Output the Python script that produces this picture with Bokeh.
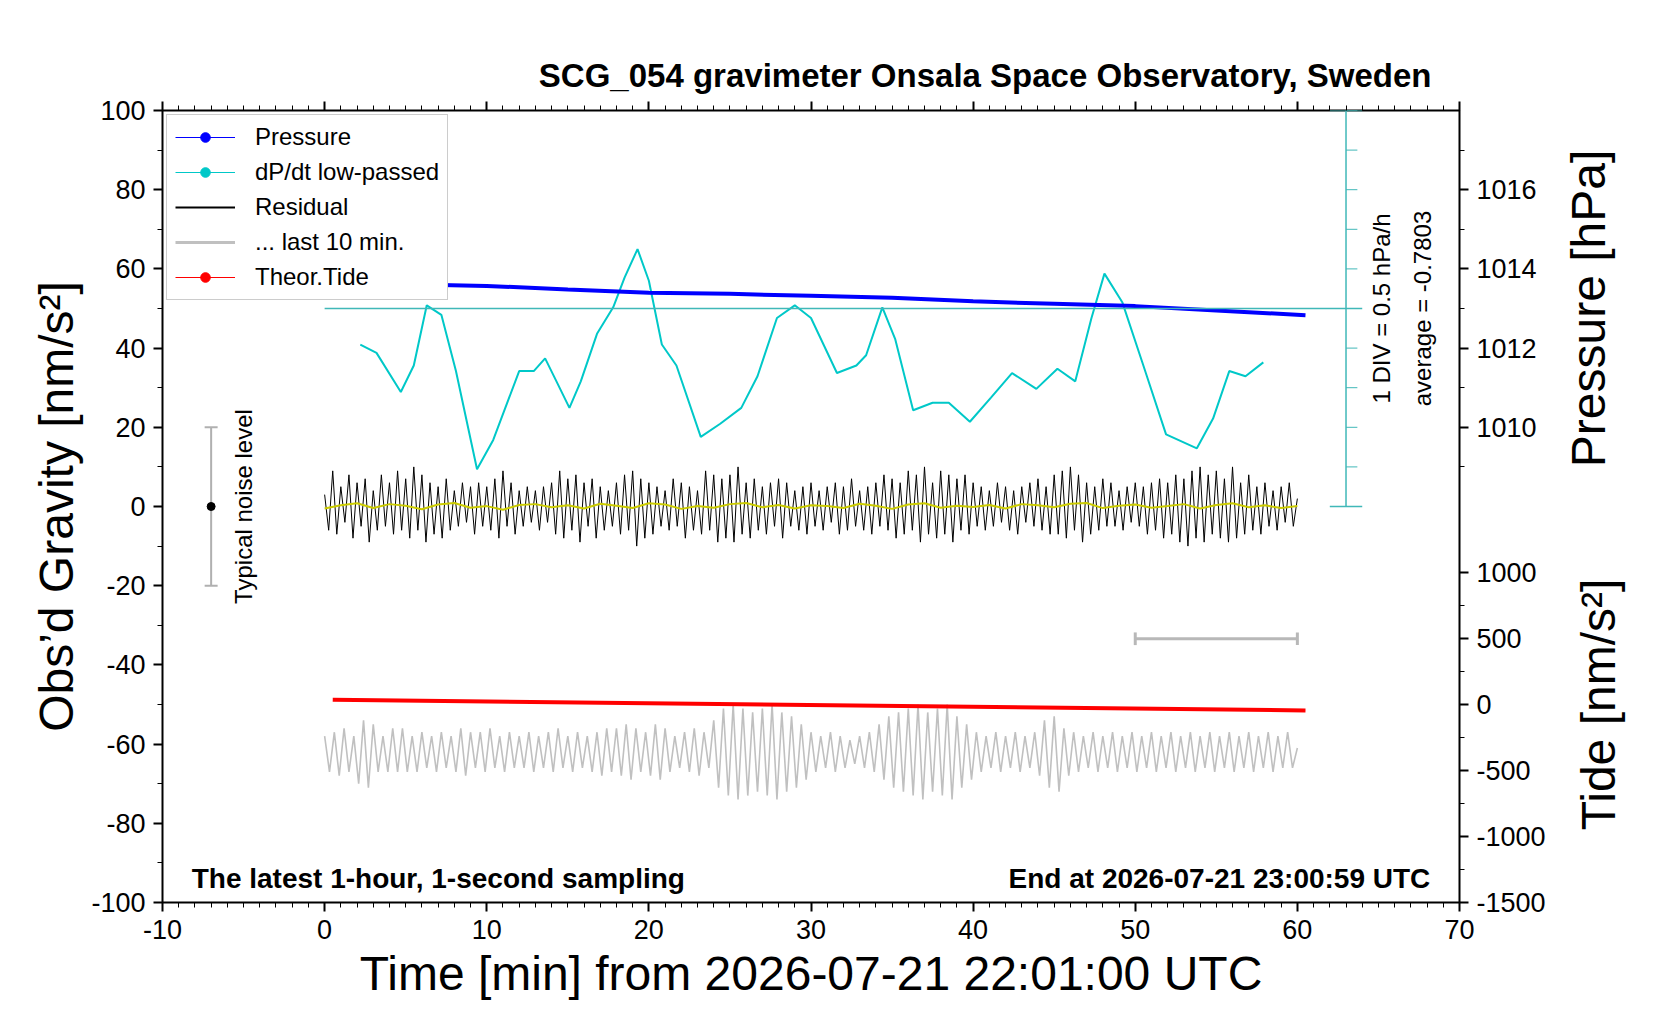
import numpy as np
from bokeh.plotting import figure
from bokeh.layouts import row
from bokeh.models import (Range1d, LinearAxis, FixedTicker, Label, Legend, LegendItem)
from bokeh.embed import file_html
from bokeh.resources import INLINE

# cyan dP/dt low-passed (minutes, plot units)
dpdt_x = [2.2, 3.2, 4.7, 5.5, 6.3, 7.2, 8.1, 9.4, 10.4, 12.0, 12.9, 13.6, 14.3, 15.1, 15.8,
          16.8, 17.8, 18.5, 19.3, 20.0, 20.8, 21.7, 23.2, 24.4, 25.7, 26.7, 27.9, 29.0, 30.0,
          31.6, 32.8, 33.4, 34.4, 35.2, 36.3, 37.5, 38.5, 39.8, 41.1, 42.4, 43.9, 45.2, 46.3,
          47.3, 48.1, 49.2, 50.5, 51.9, 53.8, 54.8, 55.8, 56.8, 57.9]
dpdt_y = [40.9, 38.8, 28.9, 35.6, 50.8, 48.4, 34.2, 9.4, 16.8, 34.2, 34.2, 37.4, 31.6, 24.9, 31.6,
          43.6, 50.3, 57.8, 65.0, 57.0, 40.9, 35.6, 17.6, 20.9, 24.9, 32.9, 47.6, 50.8, 47.6,
          33.7, 35.6, 38.2, 50.3, 42.2, 24.3, 26.2, 26.2, 21.4, 27.5, 33.7, 29.7, 34.8, 31.6,
          47.6, 58.8, 51.6, 35.6, 18.2, 14.7, 22.2, 34.2, 32.9, 36.4]

# pressure [hPa]
pres_x = [0.3, 5, 10, 15, 20, 25, 30, 35, 40, 45, 50, 55, 60.5]
pres_hpa = [1013.63, 1013.61, 1013.57, 1013.48, 1013.40, 1013.37, 1013.32, 1013.27,
            1013.18, 1013.12, 1013.06, 1012.95, 1012.83]

# theoretical tide [nm/s^2]
tide_x = [0.5, 60.5]
tide_val = [36, -45]

# residual, 15 s steps
residual = [3,-6,9,-7,5,-4,8,-8,6,-5,7,-9,4,-6,8,-5,6,-7,9,-6,
            7,-8,10,-6,8,-9,6,-7,5,-8,7,-6,4,-5,6,-4,5,-7,6,-5,
            5,-6,7,-8,9,-5,6,-7,4,-5,5,-4,4,-6,5,-4,6,-7,9,-8,
            7,-6,8,-9,6,-5,7,-8,5,-6,4,-5,6,-7,8,-6,9,-10,7,-8,
            6,-7,5,-5,4,-6,7,-5,6,-8,5,-6,4,-7,9,-6,8,-9,7,-8,
            8,-9,10,-7,6,-8,7,-6,5,-7,6,-5,7,-8,6,-5,4,-6,5,-7,
            6,-5,4,-6,5,-4,6,-7,5,-6,7,-5,4,-6,5,-7,6,-5,8,-6,
            7,-8,6,-7,9,-6,8,-9,10,-7,6,-8,9,-7,8,-9,7,-6,8,-7,
            6,-5,5,-6,4,-5,6,-4,5,-6,4,-7,5,-4,6,-5,7,-6,5,-7,
            8,-7,9,-8,10,-6,8,-9,6,-7,5,-6,7,-5,6,-5,4,-6,5,-4,
            6,-5,5,-7,6,-6,7,-8,6,-7,8,-9,7,-10,9,-8,10,-9,8,-7,
            9,-8,7,-9,10,-8,6,-7,8,-6,5,-7,6,-5,4,-6,5,-4,6,-5,
            2]

# smoothed residual, 1 min steps
smooth = [-0.5,0.3,0.8,-0.4,0.6,0.2,-0.7,0.5,0.9,-0.3,0.1,-0.8,0.4,0.6,-0.2,0.3,-0.5,0.7,0.2,-0.4,
          0.8,0.5,-0.6,0.1,-0.3,0.6,0.9,-0.2,0.4,-0.5,0.3,0.1,-0.4,0.7,0.2,-0.6,0.5,0.8,-0.3,0.2,
          -0.1,0.4,-0.5,0.6,0.3,-0.2,0.7,0.9,-0.4,0.2,0.5,-0.3,0.1,0.6,-0.5,0.4,0.8,-0.2,0.3,-0.4,0.1]

# last 10 min trace, 18 s steps
gray = [-58,-67,-57,-68,-56,-67,-58,-70,-54,-71,-55,-67,-58,-67,-56,-67,-56,-67,-58,-67,
        -57,-66,-58,-67,-57,-66,-58,-67,-56,-68,-57,-66,-57,-67,-56,-66,-58,-67,-57,-66,
        -58,-66,-57,-67,-58,-66,-57,-67,-56,-66,-58,-67,-57,-66,-58,-67,-57,-68,-56,-67,
        -56,-68,-55,-69,-56,-67,-57,-68,-55,-69,-56,-67,-58,-66,-57,-67,-56,-68,-57,-66,
        -54,-71,-51,-73,-50,-74,-51,-73,-52,-72,-51,-73,-50,-74,-52,-72,-53,-71,-55,-69,
        -57,-67,-58,-66,-57,-67,-58,-66,-59,-65,-58,-66,-57,-67,-55,-69,-53,-71,-52,-72,
        -51,-73,-50,-74,-52,-72,-51,-73,-50,-74,-53,-71,-55,-69,-57,-67,-58,-66,-57,-67,
        -58,-66,-57,-67,-58,-66,-57,-68,-54,-71,-53,-72,-56,-68,-57,-67,-58,-66,-57,-67,
        -58,-66,-57,-67,-58,-66,-57,-67,-58,-66,-57,-67,-58,-66,-57,-67,-58,-66,-57,-67,
        -58,-66,-57,-67,-58,-66,-57,-67,-58,-66,-57,-67,-58,-66,-57,-67,-58,-66,-57,-66,
        -61]

x_ticks = [-10, 0, 10, 20, 30, 40, 50, 60, 70]
left_ticks = [-100, -80, -60, -40, -20, 0, 20, 40, 60, 80, 100]
pres_ticks = [1010, 1012, 1014, 1016]
tide_ticks = [-1500, -1000, -500, 0, 500, 1000]

FONT = "Liberation Sans"
TOP, BOTTOM, FH = 110, 106, 792

p = figure(frame_width=1297, frame_height=FH, x_range=Range1d(-10, 70), y_range=Range1d(-100, 100),
           output_backend="svg", toolbar_location=None,
           min_border_left=162, min_border_right=0, min_border_top=TOP, min_border_bottom=BOTTOM)
p.xgrid.grid_line_color = None
p.ygrid.grid_line_color = None
p.outline_line_color = "black"
p.outline_line_width = 2
p.background_fill_color = "white"

p.title.text = "\nSCG_054 gravimeter Onsala Space Observatory, Sweden"
p.title.text_font = FONT
p.title.text_font_size = "33px"
p.title.text_font_style = "bold"
p.title.text_color = "black"
p.title.align = "right"
p.title.offset = 28
p.title.standoff = 16

# tide range also carries the pressure scale: p -> (p - 1008) * 300 + 1500
p.extra_y_ranges = {"pres": Range1d(998, 1018), "tide": Range1d(-1500, 4500)}

def hy(v):
    return str(v).replace("\u2212", "-")

p.xaxis.ticker = FixedTicker(ticks=x_ticks, minor_ticks=list(range(-10, 71)))
p.xaxis.major_label_overrides = {v: hy(v) for v in x_ticks}
p.yaxis.ticker = FixedTicker(ticks=left_ticks, minor_ticks=list(range(-100, 101, 10)))
p.yaxis.major_label_overrides = {v: hy(v) for v in left_ticks}
p.xaxis.axis_label = "Time [min] from 2026-07-21 22:01:00 UTC"
p.yaxis.axis_label = "Obs\u2019d Gravity [nm/s\u00b2]"

top = LinearAxis(ticker=FixedTicker(ticks=x_ticks, minor_ticks=list(range(-10, 71))),
                 major_label_text_alpha=0)
p.add_layout(top, "above")

pres_pos = [(v - 1008) * 300 + 1500 for v in pres_ticks]
pres_minor = [(v - 1008) * 300 + 1500 for v in range(1009, 1018)]
ticks_ax = LinearAxis(y_range_name="tide",
                      ticker=FixedTicker(ticks=tide_ticks + pres_pos,
                                         minor_ticks=list(range(-1500, 1001, 250)) + pres_minor))
ticks_ax.major_label_overrides = {**{t: str(t) for t in tide_ticks},
                                  **{pos: str(v) for pos, v in zip(pres_pos, pres_ticks)}}
p.add_layout(ticks_ax, "right")

for ax in p.axis:
    ax.axis_line_color = None
    ax.major_tick_line_color = "black"
    ax.minor_tick_line_color = "black"
    ax.major_tick_line_width = 2
    ax.major_tick_out = 9
    ax.major_tick_in = 0
    ax.minor_tick_out = 5
    ax.minor_tick_in = 0
    ax.major_label_text_font = FONT
    ax.major_label_text_font_size = "27px"
    ax.major_label_text_color = "black"
    ax.major_label_standoff = 8
    ax.axis_label_text_font = FONT
    ax.axis_label_text_font_size = "48px"
    ax.axis_label_text_font_style = "normal"
    ax.axis_label_text_color = "black"
top.major_label_text_font_size = "1px"
top.major_label_standoff = 4
p.xaxis[0].axis_label_text_font_size = "50px"
p.xaxis[0].axis_label_standoff = 24

x_res = np.arange(len(residual)) * 0.25
x_smooth = np.arange(len(smooth)) * 1.0
x_gray = np.arange(len(gray)) * 0.3

p.line(x_gray, gray, line_color="#c0c0c0", line_width=1.6)
p.line(x_res, residual, line_color="black", line_width=1)
p.line(x_smooth, smooth, line_color="#cccc00", line_width=2)
p.line(dpdt_x, dpdt_y, line_color="#00c8c8", line_width=2)
p.line(pres_x, pres_hpa, y_range_name="pres", line_color="#0000ff", line_width=4)
p.line(tide_x, tide_val, y_range_name="tide", line_color="#ff0000", line_width=4)

# dP/dt scale: reference line, vertical axis and divisions
p.segment(x0=[0, 63], y0=[50, 0], x1=[64, 63], y1=[50, 100], line_color="#40b8b8", line_width=1.5)
div_y = list(range(0, 101, 10))
p.segment(x0=[63] * len(div_y), y0=div_y, x1=[63.7] * len(div_y), y1=div_y, line_color="#40b8b8", line_width=1)
p.segment(x0=[62, 62], y0=[0, 100], x1=[64, 64], y1=[0, 100], line_color="#40b8b8", line_width=1.5)

# typical noise level bar
p.segment(x0=[-7, -7.4, -7.4], y0=[-20, 20, -20], x1=[-7, -6.6, -6.6], y1=[20, 20, -20],
          line_color="#b0b0b0", line_width=2)
p.scatter([-7], [0], size=8, color="black")
# 10 min bar
p.segment(x0=[50, 50, 60], y0=[-33.4, -35, -35], x1=[60, 50, 60], y1=[-33.4, -31.8, -31.8],
          line_color="#b8b8b8", line_width=3)

def lab(fig, x, y, t, size, **kw):
    fig.add_layout(Label(x=x, y=y, text=t, text_font=FONT, text_font_size=size, text_color="black", **kw))

lab(p, -5.0, 0, "Typical noise level", "24px", angle=np.pi / 2, text_align="center", text_baseline="middle")
lab(p, 65.2, 50, "1 DIV = 0.5 hPa/h", "24px", angle=np.pi / 2, text_align="center", text_baseline="middle")
lab(p, 67.7, 50, "average = -0.7803", "24px", angle=np.pi / 2, text_align="center", text_baseline="middle")
lab(p, -8.2, -94, "The latest 1-hour, 1-second sampling", "28px",
    text_font_style="bold", text_align="left", text_baseline="middle")
lab(p, 68.2, -94, "End at 2026-07-21 23:00:59 UTC", "28px",
    text_font_style="bold", text_align="right", text_baseline="middle")

# legend
nan = [np.nan]
lp = p.line(nan, nan, line_color="#0000ff", line_width=1)
dp = p.scatter(nan, nan, color="#0000ff", size=8)
lc = p.line(nan, nan, line_color="#00c8c8", line_width=1)
dc = p.scatter(nan, nan, color="#00c8c8", size=8)
lr = p.line(nan, nan, line_color="black", line_width=2)
lg = p.line(nan, nan, line_color="#c0c0c0", line_width=3)
lt = p.line(nan, nan, line_color="#ff0000", line_width=1)
dt = p.scatter(nan, nan, color="#ff0000", size=8)
legend = Legend(items=[LegendItem(label="Pressure", renderers=[lp, dp]),
                       LegendItem(label="dP/dt low-passed", renderers=[lc, dc]),
                       LegendItem(label="Residual", renderers=[lr]),
                       LegendItem(label="... last 10 min.", renderers=[lg]),
                       LegendItem(label="Theor.Tide", renderers=[lt, dt])],
                location="top_left", border_line_color="#999999", border_line_width=1,
                label_text_font=FONT, label_text_font_size="24px", label_text_color="black",
                glyph_width=60, label_height=24, glyph_height=24, spacing=7, padding=8, margin=4,
                label_standoff=20, background_fill_alpha=1)
p.add_layout(legend)

# right-hand axis titles in a narrow companion panel
side = figure(frame_width=110, frame_height=FH, x_range=Range1d(0, 110), y_range=p.y_range,
              output_backend="svg", toolbar_location=None, min_border_left=0, min_border_right=0,
              min_border_top=TOP, min_border_bottom=BOTTOM)
side.axis.visible = False
side.grid.visible = False
side.outline_line_color = None
lab(side, 40, 50, "Pressure [hPa]", "48px", angle=np.pi / 2, text_align="center", text_baseline="middle")
lab(side, 50, -50, "Tide [nm/s\u00b2]", "48px", angle=np.pi / 2, text_align="center", text_baseline="middle")

layout = row(p, side)
open("out.html", "w").write(file_html(layout, INLINE))
